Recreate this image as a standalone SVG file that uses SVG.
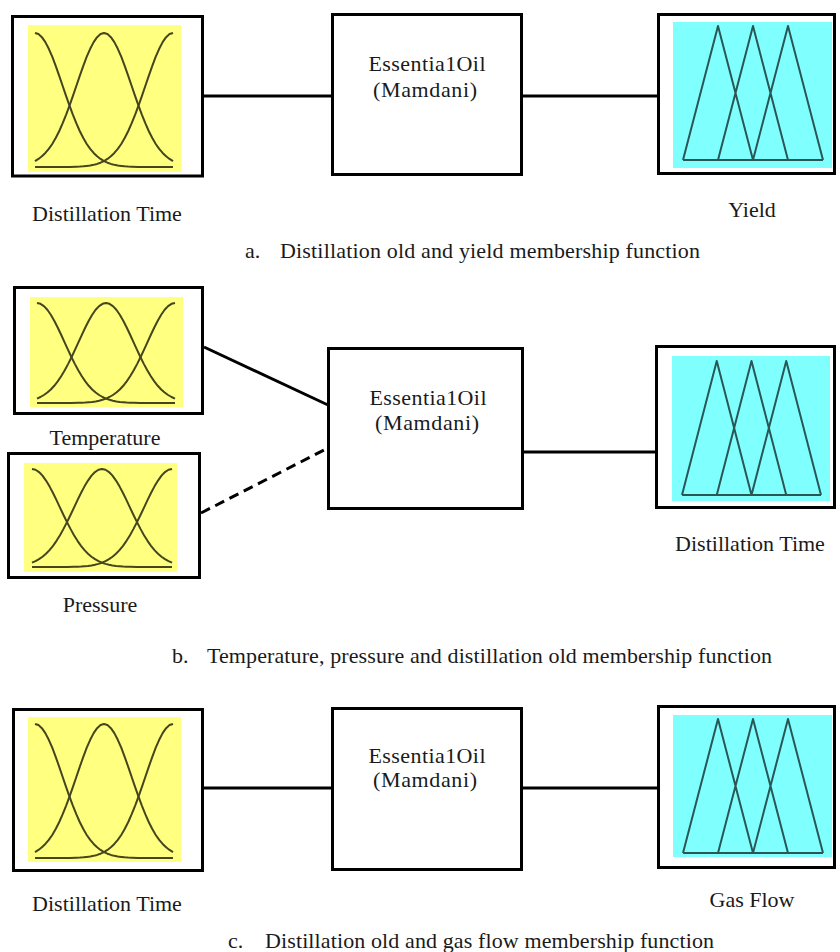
<svg xmlns="http://www.w3.org/2000/svg" xmlns:xlink="http://www.w3.org/1999/xlink" width="840" height="952" viewBox="0 0 840 952">
  <style>
    .frame { fill: #ffffff; stroke: #000000; stroke-width: 3; }
    .plot-in { fill: #ffff80; }
    .plot-out { fill: #80ffff; }
    .gauss { fill: none; stroke: #45451f; stroke-width: 2; stroke-linejoin: round; }
    .tri { fill: none; stroke: #2a5656; stroke-width: 2; stroke-linejoin: round; }
    .link { fill: none; stroke: #000000; stroke-width: 3; }
    .dashed { stroke-dasharray: 10 6; }
    .label { font-family: "Liberation Serif", "Times New Roman", serif; font-size: 22px; fill: #1a1a1a; }
    .mid { text-anchor: middle; }
  </style>
  <defs>
    <!-- three gaussian membership curves on a 100x100 unit plot -->
    <g id="gauss-set">
      <path vector-effect="non-scaling-stroke" d="M0,0 L2.5,0.8 5,3.1 7.5,6.8 10,11.8 12.5,17.7 15,24.5 17.5,31.8 20,39.4 22.5,46.9 25,54.2 27.5,61.1 30,67.5 32.5,73.3 35,78.4 37.5,82.8 40,86.5 42.5,89.5 45,92 47.5,94 50,95.6 52.5,96.8 55,97.7 57.5,98.4 60,98.9 62.5,99.2 65,99.5 67.5,99.7 70,99.8 75,100 100,100"/>
      <path vector-effect="non-scaling-stroke" d="M0,95.6 L2.5,94 5,92 7.5,89.5 10,86.5 12.5,82.8 15,78.4 17.5,73.3 20,67.5 22.5,61.1 25,54.2 27.5,46.9 30,39.4 32.5,31.8 35,24.5 37.5,17.7 40,11.8 42.5,6.8 45,3.1 47.5,0.8 50,0 52.5,0.8 55,3.1 57.5,6.8 60,11.8 62.5,17.7 65,24.5 67.5,31.8 70,39.4 72.5,46.9 75,54.2 77.5,61.1 80,67.5 82.5,73.3 85,78.4 87.5,82.8 90,86.5 92.5,89.5 95,92 97.5,94 100,95.6"/>
      <path vector-effect="non-scaling-stroke" d="M100,0 L97.5,0.8 95,3.1 92.5,6.8 90,11.8 87.5,17.7 85,24.5 82.5,31.8 80,39.4 77.5,46.9 75,54.2 72.5,61.1 70,67.5 67.5,73.3 65,78.4 62.5,82.8 60,86.5 57.5,89.5 55,92 52.5,94 50,95.6 47.5,96.8 45,97.7 42.5,98.4 40,98.9 37.5,99.2 35,99.5 32.5,99.7 30,99.8 25,100 0,100"/>
    </g>
    <!-- three triangular membership functions on a 4x1 unit plot -->
    <g id="tri-set">
      <path vector-effect="non-scaling-stroke" d="M0,1 L1,0 2,1 M1,1 L2,0 3,1 M2,1 L3,0 4,1 M0,1 L4,1"/>
    </g>
  </defs>

  <!-- connectors -->
  <g id="connectors">
    <line class="link" x1="204" y1="96" x2="331" y2="96"/>
    <line class="link" x1="523" y1="96" x2="657" y2="96"/>
    <line class="link" x1="204" y1="347" x2="328" y2="405"/>
    <line class="link dashed" x1="201" y1="513" x2="328" y2="448"/>
    <line class="link" x1="524" y1="452" x2="655" y2="452"/>
    <line class="link" x1="204" y1="788" x2="331" y2="788"/>
    <line class="link" x1="523" y1="788" x2="657" y2="788"/>
  </g>

  <!-- a. distillation time and yield -->
  <g id="a-distillation-time">
    <rect class="frame" x="12.5" y="16.5" width="190" height="159.5"/>
    <rect class="plot-in" x="28" y="25" width="153" height="147"/>
    <use xlink:href="#gauss-set" class="gauss" transform="translate(35,33) scale(1.38,1.34)"/>
    <text class="label mid" x="107" y="221">Distillation Time</text>
  </g>
  <g id="a-essential-oil">
    <rect class="frame" x="332.5" y="14.5" width="189" height="160"/>
    <text class="label mid" x="427" y="71" textLength="117">Essentia1Oil</text>
    <text class="label mid" x="425" y="97" textLength="104">(Mamdani)</text>
  </g>
  <g id="a-yield">
    <rect class="frame" x="658.5" y="14.5" width="176" height="159"/>
    <rect class="plot-out" x="673" y="22" width="159" height="146"/>
    <use xlink:href="#tri-set" class="tri" transform="translate(683,26) scale(35,134)"/>
    <text class="label mid" x="752" y="217">Yield</text>
  </g>
  <g id="a-caption">
    <text class="label" x="245" y="258">a.</text>
    <text class="label" x="280" y="258" textLength="420">Distillation old and yield membership function</text>
  </g>

  <!-- b. temperature, pressure and distillation time -->
  <g id="b-temperature">
    <rect class="frame" x="14.5" y="287.5" width="188" height="126"/>
    <rect class="plot-in" x="30" y="297" width="153" height="110"/>
    <use xlink:href="#gauss-set" class="gauss" transform="translate(37,303) scale(1.38,1.0)"/>
    <text class="label mid" x="105" y="445">Temperature</text>
  </g>
  <g id="b-pressure">
    <rect class="frame" x="8.5" y="453.5" width="191" height="124"/>
    <rect class="plot-in" x="24" y="463" width="153" height="109"/>
    <use xlink:href="#gauss-set" class="gauss" transform="translate(32,469) scale(1.40,0.98)"/>
    <text class="label mid" x="100" y="612">Pressure</text>
  </g>
  <g id="b-essential-oil">
    <rect class="frame" x="328.5" y="348.5" width="194" height="160"/>
    <text class="label mid" x="428" y="405" textLength="117">Essentia1Oil</text>
    <text class="label mid" x="427" y="430" textLength="104">(Mamdani)</text>
  </g>
  <g id="b-distillation-time">
    <rect class="frame" x="656.5" y="346.5" width="178" height="161"/>
    <rect class="plot-out" x="672" y="356" width="158" height="145"/>
    <use xlink:href="#tri-set" class="tri" transform="translate(682,361) scale(34.75,134)"/>
    <text class="label mid" x="750" y="551">Distillation Time</text>
  </g>
  <g id="b-caption">
    <text class="label" x="172" y="663">b.</text>
    <text class="label" x="207" y="663" textLength="565">Temperature, pressure and distillation old membership function</text>
  </g>

  <!-- c. distillation time and gas flow -->
  <g id="c-distillation-time">
    <rect class="frame" x="13.5" y="709.5" width="189" height="161"/>
    <rect class="plot-in" x="28" y="717" width="153" height="145"/>
    <use xlink:href="#gauss-set" class="gauss" transform="translate(35,724) scale(1.38,1.34)"/>
    <text class="label mid" x="107" y="911">Distillation Time</text>
  </g>
  <g id="c-essential-oil">
    <rect class="frame" x="332.5" y="708.5" width="189" height="161"/>
    <text class="label mid" x="427" y="763" textLength="117">Essentia1Oil</text>
    <text class="label mid" x="425" y="787" textLength="104">(Mamdani)</text>
  </g>
  <g id="c-gas-flow">
    <rect class="frame" x="658.5" y="706.5" width="176" height="161"/>
    <rect class="plot-out" x="673" y="715" width="159" height="142"/>
    <use xlink:href="#tri-set" class="tri" transform="translate(683,719) scale(35,134)"/>
    <text class="label mid" x="752" y="907">Gas Flow</text>
  </g>
  <g id="c-caption">
    <text class="label" x="228" y="948">c.</text>
    <text class="label" x="265" y="948" textLength="449">Distillation old and gas flow membership function</text>
  </g>
</svg>
